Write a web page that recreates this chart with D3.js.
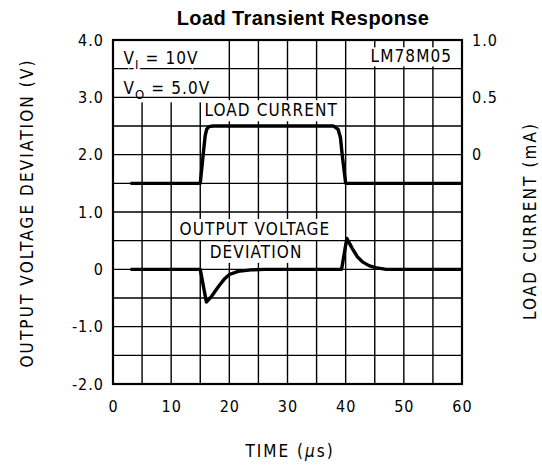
<!DOCTYPE html>
<html>
<head>
<meta charset="utf-8">
<script src="https://cdn.jsdelivr.net/npm/d3@7"></script>
<style>
  body { margin: 0; background: #fff; }
  text { font-family: "DejaVu Sans Condensed", "DejaVu Sans", sans-serif; fill: #000; }
</style>
</head>
<body>
<div id="chart"></div>
<script>
// axis ticks
var timeTicks = [0, 10, 20, 30, 40, 50, 60];
var voltTicks = [-2, -1, 0, 1, 2, 3, 4];
var voltLabels = ["-2.0", "-1.0", "0", "1.0", "2.0", "3.0", "4.0"];
var currTicks = [0, 0.5, 1.0];
var currLabels = ["0", "0.5", "1.0"];

// load current trace (us, mA on right axis)
var loadTime    = [3, 15, 15.5, 15.85, 16.1, 16.5, 17.2, 37.9, 38.7, 39.1, 39.4, 40.0, 60];
var loadCurrent = [-0.25, -0.25, 0, 0.165, 0.22, 0.245, 0.25, 0.25, 0.22, 0.15, 0, -0.25, -0.25];

// output voltage deviation trace (us, V on left axis)
var voutTime = [3, 15, 16.05, 16.95, 18.2, 19.1, 20.0, 21.5, 23.7, 26, 39.3, 40.2, 41.1, 42.0, 42.9, 44.0, 45.1, 47, 60];
var voutDev  = [0, 0, -0.57, -0.47, -0.29, -0.175, -0.09, -0.035, -0.01, 0, 0, 0.54, 0.37, 0.22, 0.13, 0.065, 0.03, 0, 0];

var width = 542, height = 469;
var margin = {top: 40, right: 80, bottom: 85, left: 113};

var svg = d3.select("#chart")
    .append("svg")
        .attr("width", width)
        .attr("height", height);

var xScale = d3.scaleLinear()
    .domain([0, 60])
    .range([margin.left, width - margin.right]);

var yScale = d3.scaleLinear()
    .domain([-2, 4])
    .range([height - margin.bottom, margin.top]);

var yRight = d3.scaleLinear()
    .domain([-2, 1])
    .range([height - margin.bottom, margin.top]);

var x0 = xScale(0), x1 = xScale(60), y0 = yScale(-2), y1 = yScale(4);

// vertical grid
svg.append("g")
    .selectAll("line")
    .data(d3.range(5, 60, 5))
    .enter()
    .append("line")
        .attr("x1", d => xScale(d))
        .attr("x2", d => xScale(d))
        .attr("y1", y1)
        .attr("y2", y0)
        .attr("stroke", "#000")
        .attr("stroke-width", 1.4);

// white area behind the V_I / V_O notes hides the vertical lines only
svg.append("rect")
    .attr("x", x0 + 1)
    .attr("y", y1 + 1)
    .attr("width", xScale(17.5) - x0)
    .attr("height", yScale(2.93) - y1)
    .attr("fill", "#fff");

// horizontal grid
svg.append("g")
    .selectAll("line")
    .data(d3.range(-1.5, 4, 0.5))
    .enter()
    .append("line")
        .attr("x1", x0)
        .attr("x2", x1)
        .attr("y1", d => yScale(d))
        .attr("y2", d => yScale(d))
        .attr("stroke", "#000")
        .attr("stroke-width", 1.4);

// text notes inside the plot, each with a white box
var notes = svg.append("g");

function boxed(el, pad) {
    var b = el.node().getBBox();
    notes.insert("rect", function() { return el.node(); })
        .attr("x", b.x - pad)
        .attr("y", b.y - pad + 3)
        .attr("width", b.width + 2 * pad)
        .attr("height", b.height + 2 * pad - 5)
        .attr("fill", "#fff");
}

function note(t, v, anchor, txt) {
    return notes.append("text")
        .attr("x", xScale(t))
        .attr("y", yScale(v))
        .attr("text-anchor", anchor)
        .attr("font-size", "17px")
        .attr("letter-spacing", "1.1px")
        .text(txt);
}

var vi = note(1.8, 3.58, "start", null)
    .attr("stroke", "#fff").attr("stroke-width", 5).attr("paint-order", "stroke");
vi.append("tspan").text("V");
vi.append("tspan").attr("dy", 5).attr("font-size", "13px").text("I");
vi.append("tspan").attr("dy", -5).text(" = 10V");

var vo = note(1.8, 3.05, "start", null);
vo.append("tspan").text("V");
vo.append("tspan").attr("dy", 5).attr("font-size", "13px").text("O");
vo.append("tspan").attr("dy", -5).text(" = 5.0V");

var lm = note(58.3, 3.61, "end", "LM78M05");
boxed(lm, 2);

var lc = note(27.2, 2.67, "middle", "LOAD CURRENT");
boxed(lc, 3);

var ov = note(24.4, 0.6, "middle", "OUTPUT VOLTAGE");
boxed(ov, 3);

var dv = note(24.6, 0.2, "middle", "DEVIATION");
boxed(dv, 3);

// traces
var loadData = loadTime.map((t, i) => [t, loadCurrent[i]]);
var voutData = voutTime.map((t, i) => [t, voutDev[i]]);

svg.append("path")
    .datum(loadData)
    .attr("fill", "none")
    .attr("stroke", "#000")
    .attr("stroke-width", 3.4)
    .attr("stroke-linejoin", "round")
    .attr("d", d3.line()
        .x(d => xScale(d[0]))
        .y(d => yRight(d[1])));

svg.append("path")
    .datum(voutData)
    .attr("fill", "none")
    .attr("stroke", "#000")
    .attr("stroke-width", 3.4)
    .attr("stroke-linejoin", "round")
    .attr("d", d3.line()
        .x(d => xScale(d[0]))
        .y(d => yScale(d[1])));

// frame
svg.append("rect")
    .attr("x", x0)
    .attr("y", y1)
    .attr("width", x1 - x0)
    .attr("height", y0 - y1)
    .attr("fill", "none")
    .attr("stroke", "#000")
    .attr("stroke-width", 2.2);

// axes
var axisLeft = svg.append("g")
    .attr("transform", "translate(" + x0 + ",0)")
    .call(d3.axisLeft(yScale)
        .tickValues(voltTicks)
        .tickFormat((d, i) => voltLabels[i])
        .tickSize(0)
        .tickPadding(9));

var axisRight = svg.append("g")
    .attr("transform", "translate(" + x1 + ",0)")
    .call(d3.axisRight(yRight)
        .tickValues(currTicks)
        .tickFormat((d, i) => currLabels[i])
        .tickSize(0)
        .tickPadding(10));

var axisBottom = svg.append("g")
    .attr("transform", "translate(0," + y0 + ")")
    .call(d3.axisBottom(xScale)
        .tickValues(timeTicks)
        .tickSize(0)
        .tickPadding(17));

[axisLeft, axisRight, axisBottom].forEach(function(a) {
    a.select(".domain").remove();
    a.selectAll("text")
        .attr("font-family", "DejaVu Sans Condensed")
        .attr("font-size", "16px")
        .attr("letter-spacing", "1px");
});

// title
svg.append("text")
    .attr("x", 303)
    .attr("y", 25)
    .attr("text-anchor", "middle")
    .style("font-family", "'Liberation Sans', Arial, sans-serif")
    .attr("font-weight", "bold")
    .attr("font-size", "20px")
    .attr("letter-spacing", "0.4px")
    .text("Load Transient Response");

// axis titles
var xt = svg.append("text")
    .attr("x", 290)
    .attr("y", 457)
    .attr("text-anchor", "middle")
    .attr("font-size", "17px")
    .attr("letter-spacing", "2px");
xt.append("tspan").text("TIME (");
xt.append("tspan").attr("font-style", "italic").text("\u03BC");
xt.append("tspan").text("s)");

svg.append("text")
    .attr("transform", "translate(33,213) rotate(-90)")
    .attr("text-anchor", "middle")
    .attr("font-size", "17px")
    .attr("letter-spacing", "2.1px")
    .text("OUTPUT VOLTAGE DEVIATION (V)");

svg.append("text")
    .attr("transform", "translate(536,221) rotate(-90)")
    .attr("text-anchor", "middle")
    .attr("font-size", "17px")
    .attr("letter-spacing", "2.1px")
    .text("LOAD CURRENT (mA)");
</script>
</body>
</html>
